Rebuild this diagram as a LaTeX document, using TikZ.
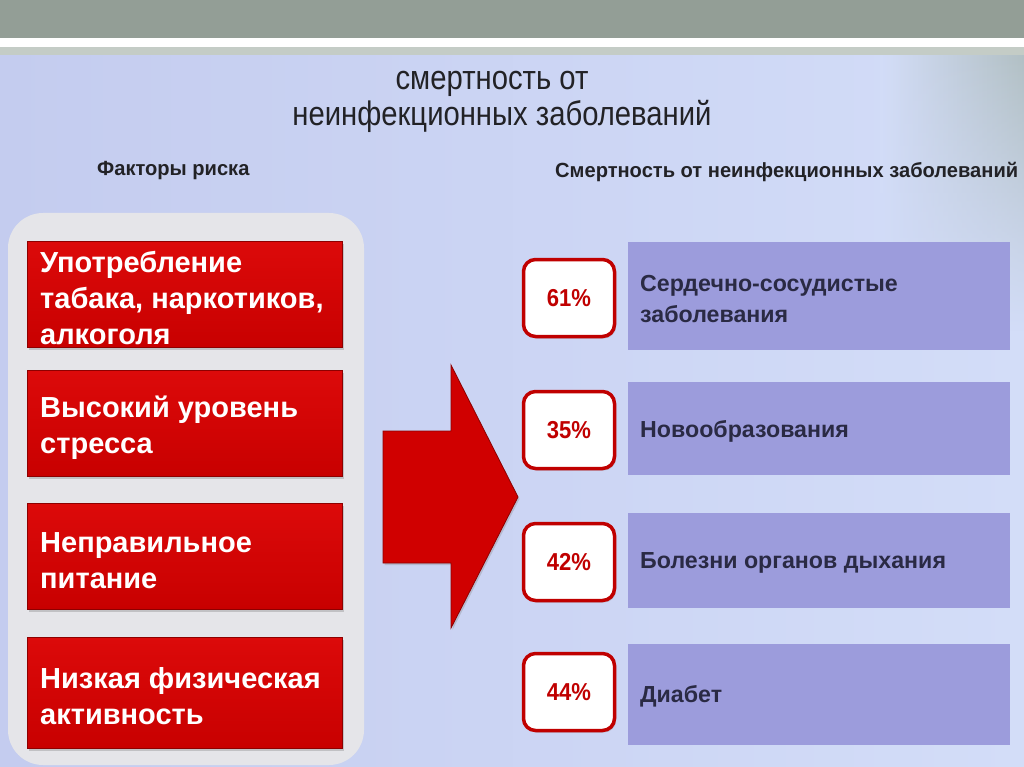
\documentclass[tikz,border=0pt]{standalone}
\usepackage{fontspec}
\setmainfont{Liberation Sans}
\newfontfamily\narrowfont[FakeStretch=0.86]{Liberation Sans}
\newfontfamily\semifont[FakeStretch=0.9]{Liberation Sans}
\newfontfamily\headfont[FakeStretch=0.98]{Liberation Sans}
\usetikzlibrary{shadows,fadings}
\definecolor{topbar}{HTML}{939E96}
\definecolor{band}{HTML}{C4CCC6}
\definecolor{bgA}{HTML}{C4CCEF}
\definecolor{bgB}{HTML}{D3DDF8}
\definecolor{rightgray}{HTML}{B2C0C4}
\definecolor{rightlight}{HTML}{E6EAF2}
\definecolor{panelgray}{HTML}{E5E5E9}
\definecolor{boxred}{HTML}{D00000}
\definecolor{boxredtop}{HTML}{DC0A0A}
\definecolor{boxredbot}{HTML}{C80000}
\definecolor{edgered}{HTML}{8E0000}
\definecolor{pctred}{HTML}{C00000}
\definecolor{lav}{HTML}{9C9CDC}
\definecolor{navy}{HTML}{2A2A44}
\definecolor{titlegray}{HTML}{222226}
\tikzset{
  titletext/.style={text=titlegray, inner sep=0, font=\narrowfont\fontsize{34}{40}\selectfont},
  headtext/.style={text=titlegray, inner sep=0, font=\headfont\bfseries\fontsize{20.5}{25}\selectfont},
  riskbox/.style={draw=edgered, line width=1pt, top color=boxredtop, bottom color=boxredbot,
    minimum width=315, inner sep=0, anchor=north west,
    drop shadow={shadow xshift=1.5pt, shadow yshift=-2pt, opacity=0.35}},
  risktext/.style={anchor=west, inner sep=0, align=left, text=white,
    font=\bfseries\fontsize{29}{36}\selectfont},
  pctbox/.style={draw=pctred, line width=3.5pt, fill=white, rounded corners=12pt,
    minimum width=91, minimum height=77, inner sep=0, text=pctred,
    font=\semifont\bfseries\fontsize{24.5}{28}\selectfont,
    drop shadow={shadow xshift=1.5pt, shadow yshift=-2pt, opacity=0.3}},
  lavbox/.style={fill=lav, minimum width=382, inner sep=0, anchor=north west},
  lavtext/.style={anchor=west, inner sep=0, align=left, text=navy,
    font=\bfseries\fontsize{23.2}{31}\selectfont}
}
\begin{document}
\begin{tikzpicture}[x=1pt,y=-1pt]
\useasboundingbox (0,0) rectangle (1024,767);
% background
\shade[left color=bgA, right color=bgB] (0,55) rectangle (1024,767);
\shade[left color=bgB, middle color=rightlight, right color=rightgray, path fading=south]
  (880,55) rectangle (1024,330);
\fill[topbar] (0,0) rectangle (1024,38);
\fill[white] (0,38) rectangle (1024,47);
\fill[band] (0,47) rectangle (1024,55);
% titles
\node[titletext, anchor=base] (t1) at (492,90) {смертность от};
\node[titletext, anchor=base] (t2) at (502,126) {неинфекционных заболеваний};
\node[headtext, anchor=base west] (hl) at (97,176) {Факторы риска};
\node[headtext, anchor=base west] (hr) at (555,178) {Смертность от неинфекционных заболеваний};
% left panel
\fill[panelgray, rounded corners=35pt] (8,213) rectangle (364,765);
% risk factors
\node[riskbox, minimum height=106] (r1) at (27,241) {};
\node[riskbox, minimum height=106] (r2) at (27,370) {};
\node[riskbox, minimum height=106] (r3) at (27,503) {};
\node[riskbox, minimum height=111] (r4) at (27,637) {};
\node[risktext] (r1t) at ([shift={(13,4)}]r1.west) {Употребление\\табака, наркотиков,\\алкоголя};
\node[risktext] (r2t) at ([shift={(13,4)}]r2.west) {Высокий уровень\\стресса};
\node[risktext] (r3t) at ([shift={(13,4)}]r3.west) {Неправильное\\питание};
\node[risktext] (r4t) at ([shift={(13,3)}]r4.west) {Низкая физическая\\активность};
% big arrow
\fill[boxred, draw=edgered, line width=0.8pt, drop shadow={shadow xshift=1.5pt, shadow yshift=-2pt, opacity=0.3}]
  (383,431) -- (451,431) -- (451,365) -- (518,497) -- (451,628) -- (451,563) -- (383,563) -- cycle;
% disease boxes
\node[lavbox, minimum height=108] (d1) at (628,242) {};
\node[lavbox, minimum height=93] (d2) at (628,382) {};
\node[lavbox, minimum height=95] (d3) at (628,513) {};
\node[lavbox, minimum height=101] (d4) at (628,644) {};
\node[lavtext] (d1t) at ([shift={(12,3)}]d1.west) {Сердечно-сосудистые\\заболевания};
\node[lavtext] (d2t) at ([shift={(12,3)}]d2.west) {Новообразования};
\node[lavtext] (d3t) at ([shift={(12,2)}]d3.west) {Болезни органов дыхания};
\node[lavtext] (d4t) at ([shift={(12,2)}]d4.west) {Диабет};
% percentages
\node[pctbox] (p1) at (569,298) {61\%};
\node[pctbox] (p2) at (569,430) {35\%};
\node[pctbox] (p3) at (569,562) {42\%};
\node[pctbox] (p4) at (569,692) {44\%};
\end{tikzpicture}
\end{document}
